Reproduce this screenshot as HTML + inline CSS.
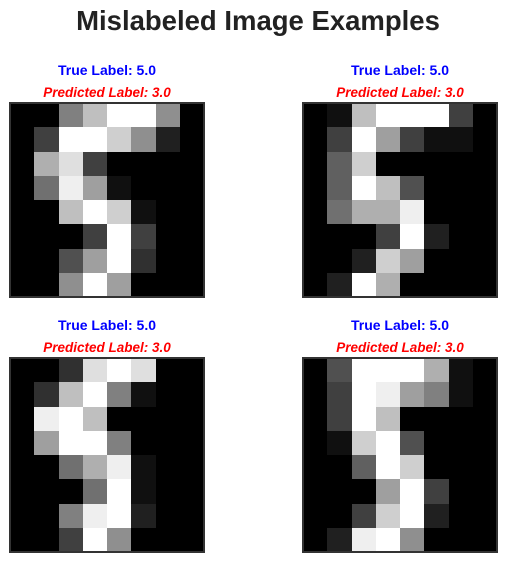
<!DOCTYPE html>
<html><head><meta charset="utf-8"><style>
body{margin:0;background:#fff;}
svg{display:block;font-family:"Liberation Sans",Arial,sans-serif;}
</style></head><body>
<svg id="fig" width="507" height="562" shape-rendering="crispEdges">
<text x="258" y="30" text-anchor="middle" font-size="27.5" font-weight="bold" fill="#222">Mislabeled Image Examples</text>
</svg>
<script>
const trueLabels=["5.0","5.0","5.0","5.0"];
const predLabels=["3.0","3.0","3.0","3.0"];
const img1=[[0,0,8,12,16,16,9,0],[0,4,16,16,13,9,2,0],[0,11,14,4,0,0,0,0],[0,7,15,10,1,0,0,0],[0,0,12,16,13,1,0,0],[0,0,0,4,16,4,0,0],[0,0,5,10,16,3,0,0],[0,0,9,16,10,0,0,0]];
const img2=[[0,1,12,16,16,16,4,0],[0,4,16,10,4,1,1,0],[0,6,13,0,0,0,0,0],[0,6,16,12,5,0,0,0],[0,7,11,11,15,0,0,0],[0,0,0,4,16,2,0,0],[0,0,2,13,10,0,0,0],[0,2,16,11,0,0,0,0]];
const img3=[[0,0,3,14,16,14,0,0],[0,3,12,16,8,1,0,0],[0,15,16,12,0,0,0,0],[0,10,16,16,8,0,0,0],[0,0,7,11,15,1,0,0],[0,0,0,7,16,1,0,0],[0,0,8,15,16,2,0,0],[0,0,4,16,9,0,0,0]];
const img4=[[0,5,16,16,16,11,1,0],[0,4,16,15,10,8,1,0],[0,4,16,12,0,0,0,0],[0,1,13,16,5,0,0,0],[0,0,6,16,13,0,0,0],[0,0,0,10,16,4,0,0],[0,0,4,13,16,2,0,0],[0,2,15,16,9,0,0,0]];
const images=[img1,img2,img3,img4];
const NS="http://www.w3.org/2000/svg";
const svg=document.getElementById('fig');
const origins=[[10,103],[303,103],[10,358],[303,358]];
const size=194, cell=size/8;
function el(t,a){const e=document.createElementNS(NS,t);for(const k in a)e.setAttribute(k,a[k]);svg.appendChild(e);return e;}
images.forEach((img,i)=>{
  const [ox,oy]=origins[i];
  const cx=ox+size/2;
  const t=el('text',{x:cx,y:oy-28,'text-anchor':'middle','font-size':14,'font-weight':'bold',fill:'#0000ff'});
  t.textContent='True Label: '+trueLabels[i];
  
  
  const p=el('text',{x:cx,y:oy-6,'text-anchor':'middle','font-size':13.5,'font-weight':'bold','font-style':'italic',fill:'#ff0000'});
  p.textContent='Predicted Label: '+predLabels[i];
  
  
  img.forEach((row,r)=>row.forEach((v,c)=>{
    const g=Math.round(v/16*255);
    const x0=Math.round(ox+c*cell), x1=Math.round(ox+(c+1)*cell);
    const y0=Math.round(oy+r*cell), y1=Math.round(oy+(r+1)*cell);
    const rc=el('rect',{x:x0,y:y0,width:x1-x0,height:y1-y0,fill:`rgb(${g},${g},${g})`});
    
    
  }));
  const b=el('rect',{x:ox,y:oy,width:size,height:size,fill:'none',stroke:'#333',"stroke-width":2});
  
  
});
</script>
</body></html>
